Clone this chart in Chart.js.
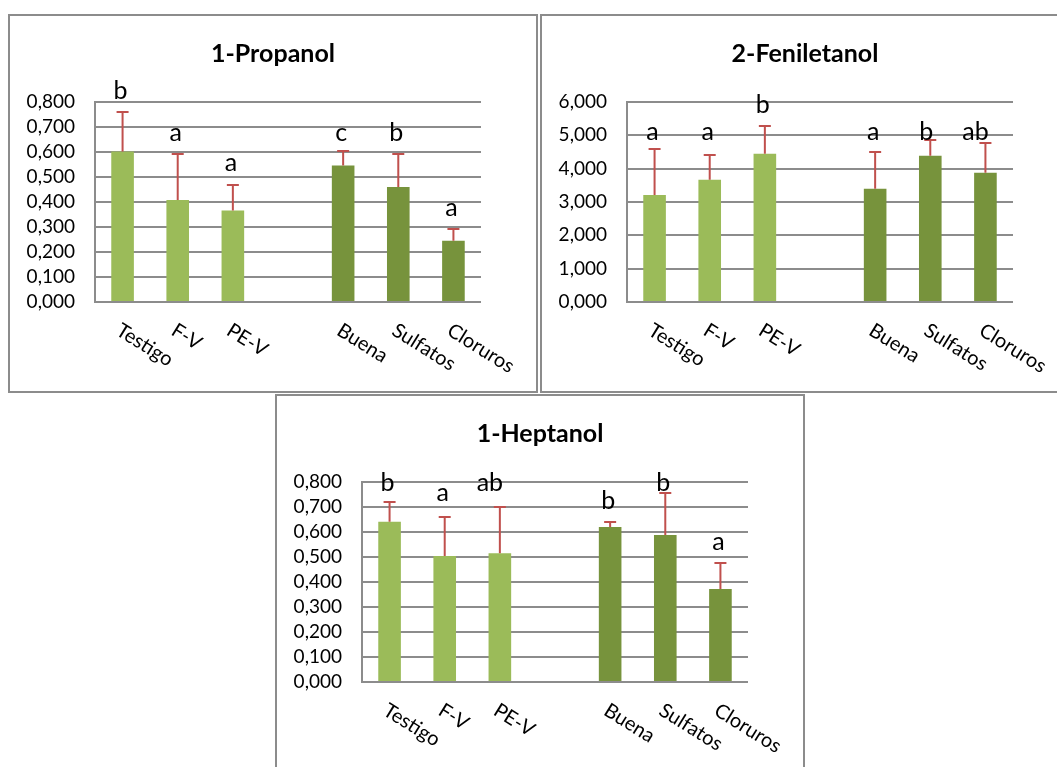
<!DOCTYPE html>
<html>
<head>
<meta charset="utf-8">
<script src="https://cdn.jsdelivr.net/npm/chart.js@4.4.1/dist/chart.umd.min.js"></script>
<style>
  html, body { margin: 0; padding: 0; background: #fff; overflow: hidden; }
  body { width: 1057px; height: 767px; position: relative; }
  .panel { position: absolute; width: 530px; height: 379px; }
  .frame { position: absolute; width: 530px; height: 379px; box-sizing: border-box;
           border: 2px solid #8c8c8c; pointer-events: none; }
  canvas { display: block; }
</style>
</head>
<body>
<div class="panel" style="left:8px;top:14px"><canvas id="c1" width="530" height="379"></canvas></div>
<div class="frame" style="left:8px;top:14px"></div>
<div class="panel" style="left:540px;top:14px"><canvas id="c2" width="530" height="379"></canvas></div>
<div class="frame" style="left:540px;top:14px"></div>
<div class="panel" style="left:275px;top:394px;background:#fff"><canvas id="c3" width="530" height="379"></canvas></div>
<div class="frame" style="left:275px;top:394px"></div>
<script>
// Treatments (the empty slot separates the two groups)
const categories = ['Testigo', 'F-V', 'PE-V', '', 'Buena', 'Sulfatos', 'Cloruros'];

// 1-Propanol: means, upper deviations, significance letters
const propanolMean = [0.602, 0.408, 0.366, null, 0.546, 0.460, 0.245];
const propanolSd = [0.160, 0.183, 0.101, null, 0.058, 0.134, 0.048];
const propanolLetters = ['b', 'a', 'a', '', 'c', 'b', 'a'];

// 2-Feniletanol
const feniletanolMean = [3.21, 3.67, 4.45, null, 3.40, 4.39, 3.88];
const feniletanolSd = [1.38, 0.75, 0.84, null, 1.11, 0.47, 0.89];
const feniletanolLetters = ['a', 'a', 'b', '', 'a', 'b', 'ab'];

// 1-Heptanol
const heptanolMean = [0.641, 0.504, 0.515, null, 0.620, 0.588, 0.372];
const heptanolSd = [0.080, 0.157, 0.186, null, 0.020, 0.167, 0.105];
const heptanolLetters = ['b', 'a', 'ab', '', 'b', 'b', 'a'];

const LIGHT = '#9BBB59';
const DARK = '#77933C';
const barColors = [LIGHT, LIGHT, LIGHT, LIGHT, DARK, DARK, DARK];
const FONT = 'Lato, "Open Sans", sans-serif';

// Title, error bars, letters and slanted category names
const annotate = {
  id: 'annotate',
  afterDatasetsDraw(chart, args, opts) {
    const ctx = chart.ctx;
    const meta = chart.getDatasetMeta(0);
    const values = chart.data.datasets[0].data;
    const ys = chart.scales.y;
    const area = chart.chartArea;

    ctx.save();
    // error bars (upper only, with cap)
    ctx.strokeStyle = '#C0504D';
    ctx.lineWidth = 2;
    meta.data.forEach((bar, i) => {
      const v = values[i];
      if (v == null) return;
      const top = Math.round(ys.getPixelForValue(v + opts.err[i]));
      ctx.beginPath();
      ctx.moveTo(bar.x, bar.y);
      ctx.lineTo(bar.x, top);
      ctx.moveTo(bar.x - 6, top);
      ctx.lineTo(bar.x + 6, top);
      ctx.stroke();
    });

    // significance letters
    ctx.fillStyle = '#000';
    ctx.font = '25px ' + FONT;
    ctx.textAlign = 'center';
    ctx.textBaseline = 'alphabetic';
    meta.data.forEach((bar, i) => {
      const t = opts.letters[i];
      if (!t) return;
      const dx = opts.letterShift ? opts.letterShift[i] : -2;
      ctx.fillText(t, bar.x + dx, ys.getPixelForValue(opts.letterLevel[i]));
    });

    // category names, slanted downwards
    ctx.font = '20px ' + FONT;
    ctx.textAlign = 'left';
    ctx.textBaseline = 'top';
    meta.data.forEach((bar, i) => {
      const name = chart.data.labels[i];
      if (!name) return;
      ctx.save();
      ctx.translate(bar.x + 1, area.bottom + 18);
      ctx.rotate(32 * Math.PI / 180);
      ctx.fillText(name, 0, 0);
      ctx.restore();
    });

    // title
    ctx.font = 'bold 25px ' + FONT;
    ctx.textAlign = 'center';
    ctx.textBaseline = 'middle';
    ctx.fillText(opts.title, 265, 40);
    ctx.restore();
  }
};

function makeChart(id, title, mean, sd, letters, yMax, yStep, letterLevel, letterShift) {
  return new Chart(document.getElementById(id), {
    type: 'bar',
    data: {
      labels: categories,
      datasets: [{
        data: mean,
        backgroundColor: barColors,
        borderWidth: 0,
        barPercentage: 0.41,
        categoryPercentage: 1.0
      }]
    },
    options: {
      responsive: false,
      animation: false,
      devicePixelRatio: 1,
      layout: { padding: { top: 88, right: 57, bottom: 91, left: 0 } },
      plugins: {
        legend: { display: false },
        title: { display: false },
        tooltip: { enabled: false },
        annotate: { title, err: sd, letters, letterLevel, letterShift }
      },
      scales: {
        x: { display: false },
        y: {
          min: 0,
          max: yMax,
          afterFit(s) { s.width = 87; },
          border: { display: true, color: '#8c8c8c', width: 2 },
          grid: { color: '#8c8c8c', lineWidth: 2, drawTicks: false },
          ticks: {
            stepSize: yStep,
            autoSkip: false,
            padding: 20,
            color: '#000',
            font: { family: FONT, size: 19 },
            callback: v => Number(v).toFixed(3).replace('.', ',')
          }
        }
      }
    },
    plugins: [annotate]
  });
}

makeChart('c1', '1-Propanol', propanolMean, propanolSd, propanolLetters, 0.8, 0.1,
  [0.813, 0.643, 0.523, null, 0.643, 0.643, 0.345], null);
makeChart('c2', '2-Feniletanol', feniletanolMean, feniletanolSd, feniletanolLetters, 6, 1,
  [4.85, 4.85, 5.67, null, 4.85, 4.85, 4.85], [-2, -2, -2, 0, -2, -4, -10]);
makeChart('c3', '1-Heptanol', heptanolMean, heptanolSd, heptanolLetters, 0.8, 0.1,
  [0.763, 0.723, 0.763, null, 0.692, 0.763, 0.529], [-2, -2, -10, 0, -2, -2, -2]);
</script>
</body>
</html>
